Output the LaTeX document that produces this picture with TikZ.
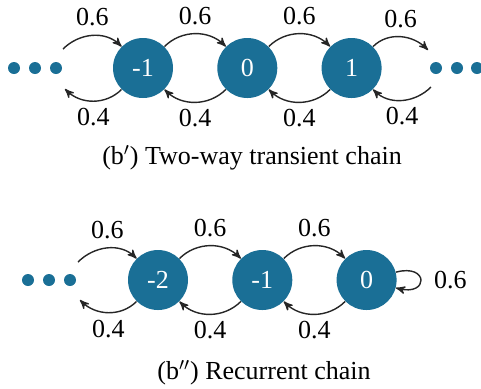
\documentclass[tikz,border=0pt]{standalone}
\usepackage{fontspec}
\setmainfont{Liberation Serif}
\usetikzlibrary{arrows,positioning}
\definecolor{chainblue}{RGB}{26,111,150}
\definecolor{arcgray}{RGB}{38,38,38}
\tikzstyle{state}=[circle,fill=chainblue,text=white,minimum size=30pt,inner sep=0pt,font=\fontsize{13}{15}\selectfont]
\tikzstyle{tail}=[circle,fill=chainblue,minimum size=6pt,inner sep=0pt]
\tikzstyle{hop}=[draw=arcgray,line width=0.7pt]

\begin{document}
\begin{tikzpicture}[->,>=stealth',x=0.5pt,y=-0.5pt,node distance=21.75pt,
  every node/.append style={font=\fontsize{13}{15}\selectfont}]
\useasboundingbox (0,0) rectangle (481,388);
% two-way transient chain
\node [state] (m1) at (143,68) {-1};
\node [state, right=of m1] (z0) {0};
\node [state, right=of z0] (p1) {1};
\foreach \x/\n in {14/a,35/b,56/c} \node [tail] (l\n) at (\x,68) {};
\foreach \x/\n in {436/a,457/b,477/c} \node [tail] (r\n) at (\x,68) {};
\coordinate (ltop) at (63,49);
\coordinate (lbot) at (65,89);
\coordinate (rtop) at (428,50);
\coordinate (rbot) at (431,87);
\draw [hop] (ltop) to[out=45,in=135] node[above=1pt] {0.6} (m1);
\draw [hop] (m1) to[out=45,in=135] node[above=1pt] {0.6} (z0);
\draw [hop] (z0) to[out=45,in=135] node[above=1pt] {0.6} (p1);
\draw [hop] (p1) to[out=45,in=135] node[above=1pt] {0.6} (rtop);
\draw [hop] (m1) to[out=-135,in=-45] node[below=0pt] {0.4} (lbot);
\draw [hop] (z0) to[out=-135,in=-45] node[below=0pt] {0.4} (m1);
\draw [hop] (p1) to[out=-135,in=-45] node[below=0pt] {0.4} (z0);
\draw [hop] (rbot) to[out=-135,in=-45] node[below=0pt] {0.4} (p1);
\node (cap1) at (252,158) {(b$'$) Two-way transient chain};
% recurrent chain
\node [state] (q2) at (158,280) {-2};
\node [state, right=of q2] (q1) {-1};
\node [state, right=of q1] (q0) {0};
\foreach \x/\n in {28/a,49/b,70/c} \node [tail] (k\n) at (\x,280) {};
\coordinate (ktop) at (78,262);
\coordinate (kbot) at (80,300);
\draw [hop] (ktop) to[out=45,in=135] node[above=1pt] {0.6} (q2);
\draw [hop] (q2) to[out=45,in=135] node[above=1pt] {0.6} (q1);
\draw [hop] (q1) to[out=45,in=135] node[above=1pt] {0.6} (q0);
\draw [hop] (q2) to[out=-135,in=-45] node[below=0pt] {0.4} (kbot);
\draw [hop] (q1) to[out=-135,in=-45] node[below=0pt] {0.4} (q2);
\draw [hop] (q0) to[out=-135,in=-45] node[below=0pt] {0.4} (q1);
\draw [hop] (q0) to[loop right,min distance=6mm] node[right=3pt] {0.6} (q0);
\node (cap2) at (264,373) {(b$''$) Recurrent chain};
\end{tikzpicture}
\end{document}
